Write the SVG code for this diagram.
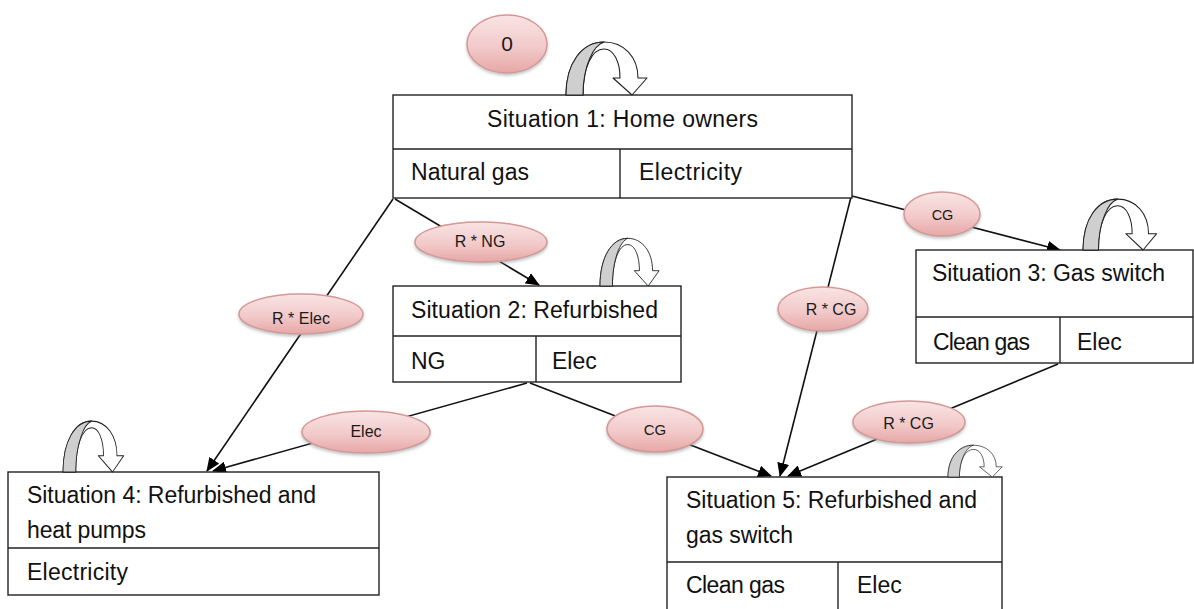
<svg xmlns="http://www.w3.org/2000/svg" width="1194" height="609" viewBox="0 0 1194 609">
<style>
.box{fill:#fff;stroke:#222;stroke-width:1.4}
.div{stroke:#222;stroke-width:1.4;fill:none}
.t{font-family:"Liberation Sans",Arial,sans-serif;font-size:23px;fill:#111}
.lt{font-family:"Liberation Sans",Arial,sans-serif;font-size:16px;fill:#1a1a1a;text-anchor:middle}
.conn{stroke:#111;stroke-width:1.6;fill:none;marker-end:url(#ah)}
.lab{fill:url(#pink);stroke:#D49897;stroke-width:1.5;filter:url(#sh)}
.rib{fill:#fff;stroke:#222;stroke-width:1.1;stroke-linejoin:round}
.leg{fill:#CFCFCF;stroke:#222;stroke-width:1.1;stroke-linejoin:round}
</style>
<defs>
<marker id="ah" viewBox="0 0 14 12" refX="13" refY="6" markerWidth="14" markerHeight="12" markerUnits="userSpaceOnUse" orient="auto">
<path d="M0,0 L14,6 L0,12 Z" fill="#000"/>
</marker>
<linearGradient id="pink" x1="0" y1="0" x2="0" y2="1">
<stop offset="0" stop-color="#F9E4E4"/>
<stop offset="0.55" stop-color="#F2CACA"/>
<stop offset="1" stop-color="#E6A7A6"/>
</linearGradient>
<filter id="sh" x="-20%" y="-20%" width="140%" height="160%">
<feDropShadow dx="0" dy="2" stdDeviation="1.5" flood-color="#888" flood-opacity="0.5"/>
</filter>
<g id="loop">
<path class="rib" d="M0,0 C0,-32 16,-53 38,-53 C58,-53 72,-38 72,-17 L81,-17 L66,0 L47,-17 L54,-17 C54,-33 48,-46 38,-46 C26,-46 17,-28 17,0 Z"/>
<path class="leg" d="M0,0 C0,-32 16,-53 38,-53 C28,-50 17,-30 17,0 Z"/>
</g>
</defs>
<rect width="1194" height="609" fill="#fff"/>

<g id="connectors">
<line class="conn" x1="395" y1="199" x2="539" y2="285"/>
<line class="conn" x1="393" y1="199" x2="207" y2="471"/>
<line class="conn" x1="852" y1="196" x2="1060" y2="250"/>
<line class="conn" x1="851" y1="197" x2="780" y2="476"/>
<line class="conn" x1="527" y1="383" x2="213" y2="471"/>
<line class="conn" x1="530" y1="383" x2="771" y2="476"/>
<line class="conn" x1="1058" y1="364" x2="788" y2="476"/>
</g>

<g id="node0">
<ellipse class="lab" cx="507" cy="44" rx="40" ry="29"/>
<text class="lt" x="507" y="51" style="font-size:21px">0</text>
</g>

<g id="situation1">
<rect class="box" x="393" y="95" width="459" height="103"/>
<path class="div" d="M393,149 H852 M620,149 V198"/>
<text class="t" x="487" y="127" textLength="271">Situation 1: Home owners</text>
<text class="t" x="411" y="180" textLength="118">Natural gas</text>
<text class="t" x="639" y="180" textLength="103">Electricity</text>
<use href="#loop" transform="translate(566,95)"/>
</g>

<g id="situation2">
<rect class="box" x="393" y="286" width="288" height="96"/>
<path class="div" d="M393,336 H681 M536,336 V382"/>
<text class="t" x="411" y="318" textLength="247">Situation 2: Refurbished</text>
<text class="t" x="411" y="369">NG</text>
<text class="t" x="552" y="369">Elec</text>
<use href="#loop" transform="translate(600,286) scale(0.73,0.9)"/>
</g>

<g id="situation3">
<rect class="box" x="916" y="250" width="277" height="113"/>
<path class="div" d="M916,317 H1193 M1060,317 V363"/>
<text class="t" x="932" y="281" textLength="233">Situation 3: Gas switch</text>
<text class="t" x="933" y="350" textLength="97">Clean gas</text>
<text class="t" x="1077" y="350">Elec</text>
<use href="#loop" transform="translate(1083,250) scale(0.91,0.96)"/>
</g>

<g id="situation4">
<rect class="box" x="8" y="472" width="371" height="123"/>
<path class="div" d="M8,548 H379"/>
<text class="t" x="27" y="503" textLength="289">Situation 4: Refurbished and</text>
<text class="t" x="27" y="538" textLength="119">heat pumps</text>
<text class="t" x="27" y="580" textLength="101">Electricity</text>
<use href="#loop" transform="translate(63,472) scale(0.75,0.96)"/>
</g>

<g id="situation5">
<rect class="box" x="667" y="477" width="335" height="140"/>
<path class="div" d="M667,562 H1002 M838,562 V617"/>
<text class="t" x="686" y="508" textLength="291">Situation 5: Refurbished and</text>
<text class="t" x="686" y="543" textLength="107">gas switch</text>
<text class="t" x="686" y="593" textLength="99">Clean gas</text>
<text class="t" x="857" y="593">Elec</text>
<use href="#loop" transform="translate(948,477) scale(0.67,0.6)"/>
</g>

<g id="labels">
<ellipse class="lab" cx="481" cy="242" rx="66" ry="20"/>
<text class="lt" x="480" y="247">R * NG</text>
<ellipse class="lab" cx="301" cy="314" rx="62" ry="20"/>
<text class="lt" x="301" y="324">R * Elec</text>
<ellipse class="lab" cx="942" cy="214" rx="38" ry="22"/>
<text class="lt" x="942.5" y="220" style="font-size:14.5px">CG</text>
<ellipse class="lab" cx="823" cy="309" rx="45" ry="22"/>
<text class="lt" x="831" y="315">R * CG</text>
<ellipse class="lab" cx="655" cy="429" rx="48" ry="23"/>
<text class="lt" x="655" y="435" style="font-size:15px">CG</text>
<ellipse class="lab" cx="366" cy="432" rx="64" ry="21"/>
<text class="lt" x="366" y="437">Elec</text>
<ellipse class="lab" cx="909" cy="422" rx="56" ry="21"/>
<text class="lt" x="908.5" y="429">R * CG</text>
</g>
</svg>
